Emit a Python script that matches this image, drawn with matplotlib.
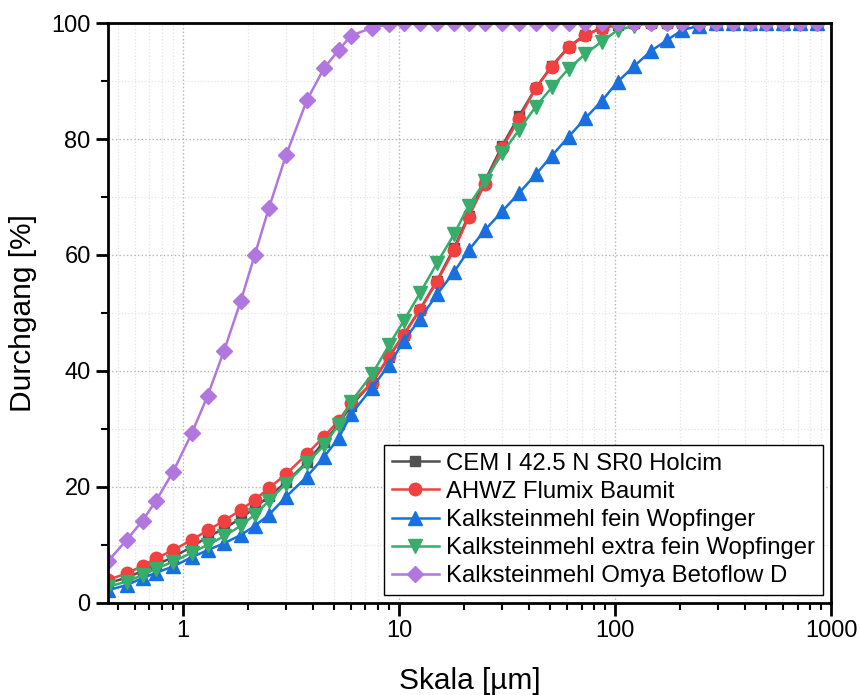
import matplotlib.pyplot as plt
from matplotlib.ticker import FixedLocator, LogLocator, MultipleLocator, NullFormatter

plt.rcParams["font.family"] = ["Liberation Sans", "DejaVu Sans"]

# particle size classes [um]
SIZES_UM = [
    0.45, 0.55, 0.65, 0.75, 0.9, 1.1, 1.3, 1.55, 1.85, 2.15,
    2.5, 3.0, 3.75, 4.5, 5.25, 6.0, 7.5, 9.0, 10.5, 12.5,
    15, 18, 21, 25, 30, 36, 43, 51, 61, 73,
    87, 103, 123, 147, 175, 205, 245, 293, 350, 420,
    500, 600, 720, 860,
]

# cumulative passing [%]
CEM_HOLCIM = [
    3.4, 4.4, 5.5, 6.6, 7.9, 9.7, 11.4, 12.8, 14.6, 16.4,
    18.4, 20.8, 24.3, 27.8, 30.8, 34.0, 38.0, 42.4, 46.2, 50.6,
    55.6, 61.2, 66.8, 72.8, 78.8, 84.0, 88.8, 92.6, 95.9, 98.0,
    99.1, 99.7, 100, 100, 100, 100, 100, 100, 100, 100,
    100, 100, 100, 100,
]
AHWZ_BAUMIT = [
    4.0, 5.1, 6.4, 7.7, 9.1, 10.9, 12.5, 14.2, 16.0, 17.8,
    19.8, 22.2, 25.7, 28.7, 31.4, 34.5, 37.9, 42.6, 46.2, 50.5,
    55.4, 60.9, 66.5, 72.3, 78.4, 83.5, 88.8, 92.5, 95.8, 97.9,
    99.2, 99.8, 100, 100, 100, 100, 100, 100, 100, 100,
    100, 100, 100, 100,
]
KALK_FEIN = [
    2.2, 3.1, 4.3, 5.2, 6.3, 7.9, 9.1, 10.3, 11.7, 13.3,
    15.2, 18.3, 21.8, 25.2, 28.4, 32.5, 37.1, 41.1, 45.1, 49.0,
    53.2, 57.1, 60.8, 64.3, 67.5, 70.7, 73.9, 77.1, 80.4, 83.6,
    86.6, 89.9, 92.6, 95.2, 97.1, 98.8, 99.5, 100, 100, 100,
    100, 100, 100, 100,
]
KALK_EXTRA_FEIN = [
    2.8, 3.7, 4.8, 5.9, 7.1, 8.7, 10.0, 11.5, 13.3, 15.2,
    17.6, 20.6, 24.1, 27.2, 30.7, 34.7, 39.4, 44.5, 48.6, 53.4,
    58.6, 63.6, 68.5, 72.7, 77.5, 81.6, 85.6, 88.9, 92.1, 94.7,
    96.8, 98.8, 99.5, 100, 100, 100, 100, 100, 100, 100,
    100, 100, 100, 100,
]
OMYA_BETOFLOW = [
    7.2, 10.9, 14.2, 17.6, 22.6, 29.3, 35.7, 43.5, 52.0, 60.0,
    68.1, 77.2, 86.7, 92.2, 95.3, 97.8, 99.2, 99.8, 100, 100,
    100, 100, 100, 100, 100, 100, 100, 100, 100, 100,
    100, 100, 100, 100, 100, 100, 100, 100, 100, 100,
    100, 100, 100, 100,
]

LABELS = [
    "CEM I 42.5 N SR0 Holcim",
    "AHWZ Flumix Baumit",
    "Kalksteinmehl fein Wopfinger",
    "Kalksteinmehl extra fein Wopfinger",
    "Kalksteinmehl Omya Betoflow D",
]
SERIES = [CEM_HOLCIM, AHWZ_BAUMIT, KALK_FEIN, KALK_EXTRA_FEIN, OMYA_BETOFLOW]

X_TICKS = [1, 10, 100, 1000]
X_TICK_LABELS = ["1", "10", "100", "1000"]

# colour, marker, marker size
STYLES = [
    ("#515151", "s", 7),
    ("#f14040", "o", 9),
    ("#1a6fdf", "^", 10),
    ("#37ad6b", "v", 10),
    ("#b177de", "D", 8),
]

fig = plt.figure(figsize=(8.6, 6.95), dpi=100)
ax = fig.add_axes([0.1256, 0.1324, 0.8407, 0.8345])

for i, (label, values) in enumerate(zip(LABELS, SERIES)):
    color, marker, size = STYLES[i]
    ax.plot(
        SIZES_UM, values,
        color=color, marker=marker, markersize=size,
        markeredgecolor=color, linewidth=1.8,
        label=label, zorder=3 + i,
    )

ax.set_xscale("log")
ax.set_xlim(0.45, 1000)
ax.set_ylim(0, 100)

ax.xaxis.set_major_locator(FixedLocator(X_TICKS))
ax.set_xticklabels(X_TICK_LABELS)
ax.xaxis.set_minor_locator(LogLocator(base=10, subs=range(2, 10)))
ax.xaxis.set_minor_formatter(NullFormatter())
ax.yaxis.set_major_locator(MultipleLocator(20))
ax.yaxis.set_minor_locator(MultipleLocator(10))

ax.grid(which="major", linestyle=":", color="#b4b4b4", linewidth=1.0)
ax.grid(which="minor", linestyle=":", color="#e3e3e3", linewidth=0.9)
ax.set_axisbelow(True)

ax.tick_params(which="major", direction="out", length=9, width=2,
               labelsize=17, top=False, right=False)
ax.tick_params(which="minor", direction="out", length=5, width=1.5,
               top=False, right=False)
for spine in ax.spines.values():
    spine.set_linewidth(2)
    spine.set_color("black")
    spine.set_zorder(15)

ax.set_xlabel("Skala [µm]", fontsize=21.5, labelpad=18)
ax.set_ylabel("Durchgang [%]", fontsize=21.5, labelpad=10)

leg = ax.legend(
    loc="lower right", fontsize=17.2, frameon=True, fancybox=False,
    edgecolor="black", framealpha=1, borderaxespad=0.35,
    labelspacing=0.26, handlelength=2.0, handletextpad=0.3, borderpad=0.3,
)
leg.get_frame().set_linewidth(1.0)
leg.set_zorder(20)

fig.savefig("out.png", dpi=100)
